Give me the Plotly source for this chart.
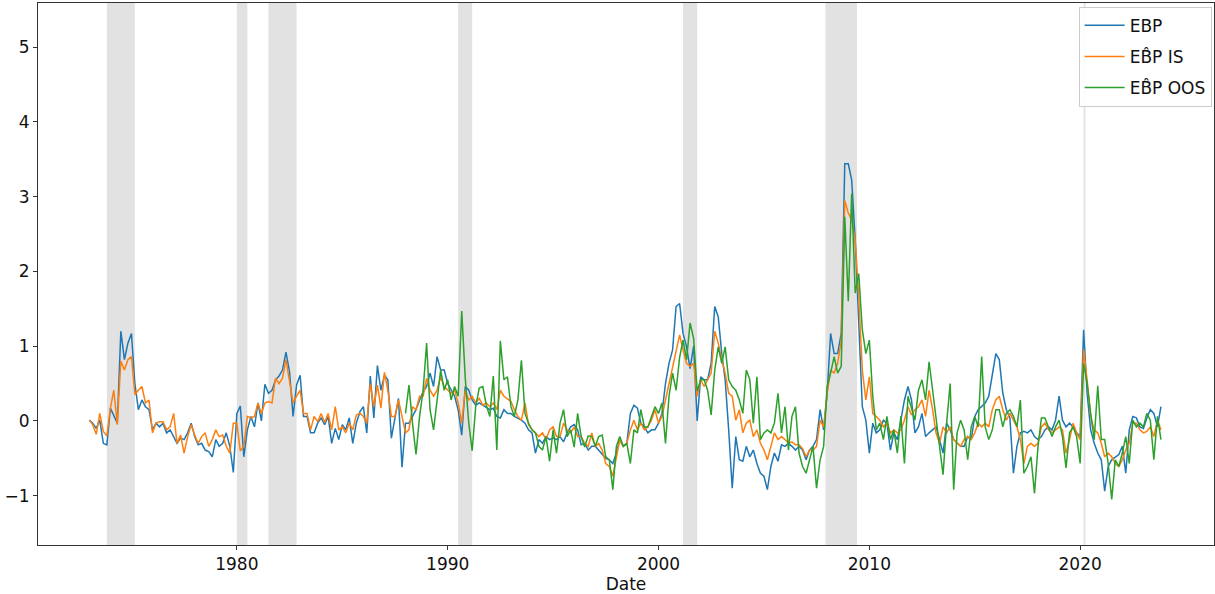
import pandas as pd
import plotly.graph_objects as go

# ---- data (bimonthly readings, Jan/Mar/May/Jul/Sep/Nov) ----
ebp_start = "1973-01-01"
ebp = [
    0.01, -0.03, -0.1, 0.01, -0.3, -0.32,      # 1973
    0.17, 0.06, -0.03, 1.2, 0.82, 1.04,        # 1974
    1.17, 0.5, 0.15, 0.28, 0.19, 0.15,         # 1975
    -0.12, -0.03, -0.08, -0.03, -0.16, -0.12,  # 1976
    -0.21, -0.3, -0.23, -0.25, -0.16, -0.03,   # 1977
    -0.21, -0.32, -0.3, -0.39, -0.41, -0.48,   # 1978
    -0.25, -0.34, -0.3, -0.16, -0.34, -0.69,   # 1979
    0.1, 0.2, -0.48, -0.12, 0.06, -0.08,       # 1980
    0.24, 0.0, 0.49, 0.37, 0.41, 0.55,         # 1981
    0.6, 0.68, 0.92, 0.66, 0.06, 0.48,         # 1982
    0.61, 0.06, 0.06, -0.16, -0.16, -0.03,     # 1983
    0.04, -0.05, 0.06, -0.3, -0.1, -0.25,      # 1984
    -0.05, -0.12, 0.04, -0.3, -0.03, 0.12,     # 1985
    0.19, -0.16, 0.6, 0.04, 0.74, 0.41,        # 1986
    0.61, 0.55, -0.23, 0.06, 0.3, -0.62,       # 1987
    -0.03, -0.03, 0.06, 0.15, 0.28, 0.39,      # 1988
    0.46, 0.64, 0.46, 0.86, 0.68, 0.68,        # 1989
    0.5, 0.41, 0.33, 0.15, -0.19, 0.46,        # 1990
    0.41, 0.28, 0.21, 0.24, 0.21, 0.19,        # 1991
    0.15, 0.17, 0.06, 0.04, 0.15, 0.1,         # 1992
    0.1, 0.06, 0.04, 0.01, -0.03, -0.12,       # 1993
    -0.16, -0.43, -0.25, -0.3, -0.21, -0.25,   # 1994
    -0.23, -0.25, -0.21, -0.28, -0.16, -0.08,  # 1995
    -0.05, -0.12, -0.32, -0.3, -0.39, -0.34,   # 1996
    -0.34, -0.39, -0.45, -0.5, -0.52, -0.57,   # 1997
    -0.43, -0.25, -0.34, -0.3, 0.1, 0.21,      # 1998
    0.17, -0.03, -0.08, -0.16, -0.12, -0.12,   # 1999
    -0.03, 0.1, 0.5, 0.77, 0.95, 1.53,         # 2000
    1.57, 1.17, 0.99, 0.7, 1.0, 0.0,           # 2001
    0.59, 0.55, 0.55, 0.77, 1.53, 1.39,        # 2002
    0.9, 0.55, -0.12, -0.9, -0.21, -0.52,      # 2003
    -0.54, -0.34, -0.48, -0.39, -0.57, -0.7,   # 2004
    -0.74, -0.92, -0.61, -0.43, -0.54, -0.32,  # 2005
    -0.34, -0.3, -0.34, -0.39, -0.34, -0.39,   # 2006
    -0.52, -0.39, -0.34, -0.25, 0.15, -0.12,   # 2007
    0.37, 1.17, 0.9, 0.9, 1.17, 3.44,          # 2008
    3.44, 3.22, 2.42, 1.31, 0.19, 0.01,        # 2009
    -0.43, -0.03, -0.16, -0.12, 0.01, -0.03,   # 2010
    -0.39, -0.16, -0.25, 0.01, 0.28, 0.46,     # 2011
    0.28, -0.16, -0.08, 0.1, -0.21, -0.16,     # 2012
    -0.12, -0.08, -0.25, -0.43, -0.03, -0.12,  # 2013
    -0.25, -0.3, -0.34, -0.34, -0.21, -0.25,   # 2014
    0.06, 0.15, 0.19, 0.24, 0.33, 0.59,        # 2015
    0.9, 0.82, 0.37, 0.15, 0.04, -0.7,         # 2016
    -0.34, -0.16, -0.14, -0.16, -0.12, -0.21,  # 2017
    -0.25, -0.21, -0.12, -0.08, -0.12, 0.01,   # 2018
    0.33, 0.01, -0.08, -0.03, -0.08, -0.16,    # 2019
    -0.21, 1.22, 0.37, -0.12, -0.3, -0.43,     # 2020
    -0.52, -0.94, -0.61, -0.52, -0.48, -0.45,  # 2021
    -0.34, -0.7, -0.12, 0.06, 0.04, -0.08,     # 2022
    -0.1, 0.04, 0.15, 0.1, -0.08, 0.19,        # 2023
]

ebp_is = [
    0.01, -0.05, -0.18, 0.1, -0.14, -0.2,      # 1973
    0.17, 0.41, -0.05, 0.8, 0.68, 0.82,        # 1974
    0.86, 0.35, 0.41, 0.46, 0.24, 0.28,        # 1975
    -0.16, -0.03, -0.01, -0.01, -0.12, -0.08,  # 1976
    0.1, -0.3, -0.19, -0.43, -0.21, -0.05,     # 1977
    -0.19, -0.3, -0.21, -0.16, -0.34, -0.25,   # 1978
    -0.12, -0.21, -0.19, -0.34, -0.43, -0.03,  # 1979
    -0.03, -0.4, -0.34, 0.06, 0.04, 0.06,      # 1980
    0.24, 0.1, 0.24, 0.26, 0.24, 0.57,         # 1981
    0.5, 0.57, 0.82, 0.55, 0.24, 0.33,         # 1982
    0.41, 0.1, 0.1, -0.12, 0.06, -0.01,        # 1983
    0.1, -0.02, 0.1, -0.12, 0.19, -0.12,       # 1984
    -0.08, -0.16, -0.03, -0.12, 0.08, 0.1,     # 1985
    0.06, -0.03, 0.5, 0.19, 0.48, 0.17,        # 1986
    0.65, 0.41, 0.06, 0.06, 0.28, 0.06,        # 1987
    -0.16, -0.12, 0.19, 0.15, 0.33, 0.33,      # 1988
    0.57, 0.41, 0.33, 0.41, 0.59, 0.46,        # 1989
    0.41, 0.37, 0.41, 0.24, -0.03, 0.41,       # 1990
    0.28, 0.33, 0.24, 0.3, 0.21, 0.24,         # 1991
    0.19, 0.24, 0.15, 0.41, 0.33, 0.3,         # 1992
    0.26, 0.15, 0.06, 0.01, 0.24, -0.05,       # 1993
    -0.12, -0.16, -0.21, -0.16, -0.25, -0.12,  # 1994
    -0.08, -0.21, -0.21, -0.03, -0.12, -0.16,  # 1995
    -0.08, -0.21, -0.21, -0.3, -0.34, -0.16,   # 1996
    -0.34, -0.3, -0.39, -0.57, -0.61, -0.74,   # 1997
    -0.48, -0.25, -0.34, -0.3, -0.12, 0.01,    # 1998
    -0.12, -0.03, -0.12, -0.08, 0.01, 0.15,    # 1999
    -0.03, 0.06, 0.28, 0.5, 0.73, 0.95,        # 2000
    1.15, 0.95, 0.77, 0.73, 0.77, 0.33,        # 2001
    0.55, 0.46, 0.55, 0.64, 1.2, 1.04,         # 2002
    0.82, 0.64, 0.37, 0.33, 0.01, 0.15,        # 2003
    -0.16, -0.03, 0.01, -0.21, -0.12, -0.3,    # 2004
    -0.39, -0.52, -0.34, -0.16, -0.25, -0.21,  # 2005
    -0.25, -0.3, -0.28, -0.32, -0.32, -0.37,   # 2006
    -0.48, -0.39, -0.39, -0.34, 0.01, -0.08,   # 2007
    0.37, 0.68, 0.64, 0.77, 1.08, 2.95,        # 2008
    2.78, 2.69, 2.42, 1.66, 0.68, 0.28,        # 2009
    0.59, 0.1, 0.06, 0.01, -0.08, -0.03,       # 2010
    -0.16, -0.12, -0.16, -0.12, 0.01, 0.19,    # 2011
    0.08, 0.15, 0.19, 0.28, 0.06, 0.41,        # 2012
    0.15, -0.16, -0.3, -0.08, -0.16, -0.08,    # 2013
    -0.25, -0.3, -0.34, -0.25, -0.21, -0.25,   # 2014
    -0.16, -0.03, -0.08, -0.03, -0.08, 0.15,   # 2015
    0.28, 0.33, 0.15, 0.01, 0.1, 0.01,         # 2016
    -0.08, -0.25, -0.57, -0.34, -0.3, -0.34,   # 2017
    -0.3, -0.08, -0.03, -0.12, -0.16, -0.12,   # 2018
    -0.08, -0.12, -0.43, -0.25, -0.03, -0.16,  # 2019
    -0.25, 0.95, 0.55, 0.06, -0.12, -0.16,     # 2020
    -0.3, -0.48, -0.43, -0.48, -0.57, -0.61,   # 2021
    -0.52, -0.39, -0.3, -0.03, -0.03, -0.12,   # 2022
    -0.16, -0.14, -0.08, -0.21, 0.01, -0.12,   # 2023
]

oos_start = "1988-01-01"
ebp_oos = [
    0.1, 0.48, -0.03, -0.45, 0.06, 0.41,       # 1988
    1.04, 0.15, -0.12, 0.28, 0.68, 0.41,       # 1989
    0.55, 0.28, 0.46, 0.33, 1.47, 0.57,        # 1990
    -0.03, -0.4, 0.19, 0.44, 0.46, 0.21,       # 1991
    0.06, 0.6, -0.39, 1.07, 0.55, 0.59,        # 1992
    0.19, 0.06, 0.28, 0.81, 0.1, -0.03,        # 1993
    -0.12, -0.16, -0.34, -0.39, -0.21, -0.54,  # 1994
    -0.12, -0.43, -0.03, 0.15, -0.21, -0.12,   # 1995
    -0.35, 0.1, -0.21, -0.35, -0.2, -0.21,     # 1996
    -0.34, -0.21, -0.19, -0.48, -0.52, -0.92,  # 1997
    -0.34, -0.21, -0.34, -0.3, -0.57, -0.12,   # 1998
    -0.16, 0.15, -0.08, -0.08, 0.06, 0.19,     # 1999
    0.1, 0.24, -0.3, 0.33, 0.64, 0.41,         # 2000
    0.85, 1.08, 0.82, 1.31, 1.1, 0.4,          # 2001
    0.55, 0.55, 0.41, 0.08, 0.68, 0.99,        # 2002
    0.77, 0.99, 0.55, 0.46, 0.41, 0.28,        # 2003
    0.1, 0.68, 0.55, -0.03, 0.59, -0.25,       # 2004
    -0.16, -0.12, -0.16, -0.03, 0.37, -0.16,   # 2005
    0.19, -0.39, 0.06, 0.19, -0.43, -0.61,     # 2006
    -0.7, -0.52, -0.34, -0.9, -0.52, -0.34,    # 2007
    0.46, 0.64, 0.86, 0.64, 0.73, 2.73,        # 2008
    1.6, 3.04, 1.71, 1.97, 1.22, 0.9,          # 2009
    1.08, 0.33, -0.12, -0.03, -0.25, 0.06,     # 2010
    -0.25, -0.12, -0.43, 0.06, -0.57, 0.33,    # 2011
    0.15, 0.01, 0.41, 0.55, 0.28, 0.79,        # 2012
    0.41, 0.06, -0.3, -0.72, -0.03, 0.5,       # 2013
    -0.92, -0.16, 0.01, -0.12, -0.52, -0.08,   # 2014
    0.06, -0.08, 0.86, -0.08, -0.25, -0.12,    # 2015
    0.15, 0.15, -0.08, 0.1, 0.15, 0.06,        # 2016
    -0.08, 0.28, -0.7, -0.61, -0.48, -0.97,    # 2017
    -0.34, 0.04, 0.04, -0.08, -0.21, -0.08,    # 2018
    0.01, -0.21, -0.63, -0.16, -0.08, -0.21,   # 2019
    -0.57, 0.77, 0.5, 0.1, -0.25, 0.47,        # 2020
    -0.25, -0.25, -0.57, -1.05, -0.52, -0.61,  # 2021
    -0.43, -0.21, -0.57, 0.01, -0.08, -0.03,   # 2022
    -0.08, 0.1, 0.01, -0.52, 0.06, -0.25,      # 2023
]

rec_start = ["1973-11-01", "1980-01-01", "1981-07-01", "1990-07-01",
             "2001-03-01", "2007-12-01", "2020-03-01"]
rec_end = ["1975-03-01", "1980-07-01", "1982-11-01", "1991-03-01",
           "2001-11-01", "2009-06-01", "2020-04-01"]

x_ticks = ["1980-01-01", "1990-01-01", "2000-01-01", "2010-01-01", "2020-01-01"]
x_tick_labels = ["1980", "1990", "2000", "2010", "2020"]
y_ticks = [-1, 0, 1, 2, 3, 4, 5]
y_tick_labels = ["\u22121", "0", "1", "2", "3", "4", "5"]

dates_full = pd.date_range(ebp_start, periods=len(ebp), freq="2MS")
dates_oos = pd.date_range(oos_start, periods=len(ebp_oos), freq="2MS")

fig = go.Figure()

for s, e in zip(rec_start, rec_end):
    fig.add_vrect(x0=s, x1=e, fillcolor="#e2e2e2", opacity=1, line_width=0, layer="below")

fig.add_trace(go.Scatter(x=dates_full, y=ebp, mode="lines", name="EBP",
                         line=dict(color="#1f77b4", width=1.5), legendgroup="a"))
fig.add_trace(go.Scatter(x=dates_full, y=ebp_is, mode="lines", name="EB\u0302P IS",
                         line=dict(color="#ff7f0e", width=1.5), legendgroup="b"))
fig.add_trace(go.Scatter(x=dates_oos, y=ebp_oos, mode="lines", name="EB\u0302P OOS",
                         line=dict(color="#2ca02c", width=1.5), legendgroup="c"))

fig.update_layout(
    width=1215, height=594,
    margin=dict(l=38, r=1, t=3, b=49),
    paper_bgcolor="white", plot_bgcolor="white",
    font=dict(family="DejaVu Sans", size=17, color="#111"),
    showlegend=True,
    legend=dict(x=0.998, y=0.993, xanchor="right", yanchor="top",
                bgcolor="rgba(255,255,255,0.85)", bordercolor="#cccccc", borderwidth=1,
                font=dict(size=17), traceorder="grouped", tracegroupgap=6,
                itemwidth=40),
    xaxis=dict(range=["1970-07-27", "2026-05-08"], showgrid=False, zeroline=False,
               tickmode="array", tickvals=x_ticks, ticktext=x_tick_labels,
               ticks="outside", ticklen=4, tickcolor="#333",
               showline=True, linecolor="#333", linewidth=1, mirror=True,
               automargin=False,
               title=dict(text="Date", font=dict(size=17), standoff=2)),
    yaxis=dict(range=[-1.66, 5.59], showgrid=False, zeroline=False,
               tickmode="array", tickvals=y_ticks, ticktext=y_tick_labels,
               ticks="outside", ticklen=4, tickcolor="#333",
               showline=True, linecolor="#333", linewidth=1, mirror=True,
               automargin=False),
)

fig.write_html("out.html", post_script="document.body.style.margin='0';",
               config={"displayModeBar": False})
